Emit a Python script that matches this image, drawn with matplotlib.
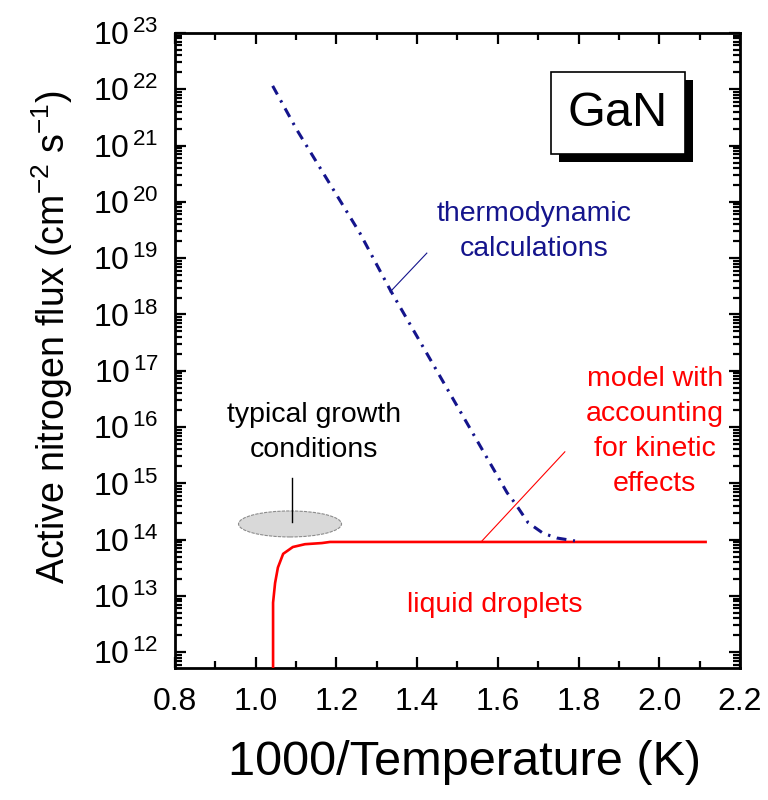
import math
import matplotlib
matplotlib.use("Agg")
import matplotlib.pyplot as plt
from matplotlib.patches import Ellipse, Rectangle
from matplotlib.transforms import ScaledTranslation
from matplotlib.ticker import FuncFormatter, FixedLocator, LogLocator, MultipleLocator

# ---- data ----
kinetic_x = [1.043, 1.043, 1.048, 1.055, 1.068, 1.092, 1.122, 1.164, 1.184, 2.118]
kinetic_y = [1e11, 7.6e12, 1.7e13, 3.2e13, 5.6e13, 7.4e13, 8.3e13, 8.7e13, 9.1e13, 9.1e13]

thermo_x = [1.042, 1.102, 1.258, 1.333, 1.623, 1.642, 1.675, 1.712, 1.746, 1.791]
thermo_y = [1.15e22, 1.9e21, 2.8e19, 2.75e18, 6.8e14, 4.5e14, 2.0e14, 1.3e14, 1.07e14, 9.5e13]

x_ticks = [0.8, 1.0, 1.2, 1.4, 1.6, 1.8, 2.0, 2.2]
y_exponents = list(range(12, 24))

growth_x = 1.085
growth_y = 1.9e14

plt.rcParams['font.family'] = ['Liberation Sans', 'DejaVu Sans']
plt.rcParams['mathtext.fontset'] = 'custom'
plt.rcParams['mathtext.rm'] = 'Liberation Sans'
plt.rcParams['mathtext.it'] = 'Liberation Sans'

fig = plt.figure(figsize=(7.68, 8.0), dpi=100)
ax = fig.add_axes([175/768, 1-668/800, (740-175)/768, (668-33)/800])

navy = '#14148c'
red = '#ff0000'

ax.plot(kinetic_x, kinetic_y, color=red, lw=1.9, zorder=3, solid_capstyle='butt')
l, = ax.plot(thermo_x, thermo_y, color=navy, lw=2.2, zorder=4)
l.set_dashes([3.2, 2.2, 0.8, 2.2])

ax.set_yscale('log')
ax.set_xlim(0.8, 2.2)
ax.set_ylim(10**11.72, 1e23)

ax.xaxis.set_major_locator(FixedLocator(x_ticks))
ax.xaxis.set_minor_locator(MultipleLocator(0.1))
ax.xaxis.set_major_formatter(FuncFormatter(lambda v, p: f"{v:.1f}"))
ax.yaxis.set_major_locator(FixedLocator([10.0**e for e in y_exponents]))
ax.yaxis.set_minor_locator(LogLocator(base=10, subs=range(2, 10), numticks=50))
ax.yaxis.set_major_formatter(FuncFormatter(
    lambda v, p: r"$\mathregular{10^{\,%d}}$" % round(math.log10(v))))

for s in ax.spines.values():
    s.set_linewidth(2.0)
ax.tick_params(which='both', direction='in', top=True, right=True, width=1.6)
ax.tick_params(which='major', length=8)
ax.tick_params(which='minor', length=5)
ax.tick_params(axis='x', which='major', labelsize=23, pad=14)
ax.tick_params(axis='y', which='major', labelsize=23, pad=12)

ax.set_xlabel('1000/Temperature (K)', fontsize=35)
ax.set_ylabel('Active nitrogen flux (cm$^{\\mathregular{-2}}$ s$^{\\mathregular{-1}}$)',
              fontsize=27)
ax.xaxis.set_label_coords(0.513, -0.113)
ax.yaxis.set_label_coords(-0.177, 0.521)

# annotations
ax.text(1.69, 3.0e19, 'thermodynamic\ncalculations', color=navy, fontsize=20.5,
        ha='center', va='center', linespacing=1.45)
ax.plot([1.333, 1.424], [10**18.4, 10**19.09], color=navy, lw=0.8)

ax.text(1.144, 8.1e15, 'typical growth\nconditions', color='black', fontsize=20.5,
        ha='center', va='center', linespacing=1.45)
ax.plot([1.09, 1.09], [10**15.1, 10**14.31], color='black', lw=1.0, zorder=5)
ell = Ellipse((0, 0), 1.03, 0.26, facecolor='#d9d9d9', edgecolor='#8c8c8c',
              lw=0.8, ls=(0, (3, 1)),
              transform=fig.dpi_scale_trans + ScaledTranslation(growth_x, growth_y, ax.transData))
ax.add_patch(ell)

ax.text(1.989, 8.5e15, 'model with\naccounting\nfor kinetic\neffects', color=red,
        fontsize=20.5, ha='center', va='center', linespacing=1.45)
ax.plot([1.561, 1.766], [10**13.98, 10**15.56], color=red, lw=0.8)

ax.text(1.593, 6.9e12, 'liquid droplets', color=red, fontsize=20.5,
        ha='center', va='center')

# GaN box with shadow
fig.add_artist(Rectangle((559/768, 1-162/800), (693-559)/768, (162-80)/800,
                         transform=fig.transFigure, facecolor='black', edgecolor='none', zorder=10))
fig.add_artist(Rectangle((551/768, 1-154/800), (685-551)/768, (154-72)/800,
                         transform=fig.transFigure, facecolor='white', edgecolor='black',
                         lw=1.2, zorder=11))
fig.text(618/768, 1-114/800, 'GaN', fontsize=35, ha='center', va='center', zorder=12)

fig.savefig('out.png', dpi=100)
